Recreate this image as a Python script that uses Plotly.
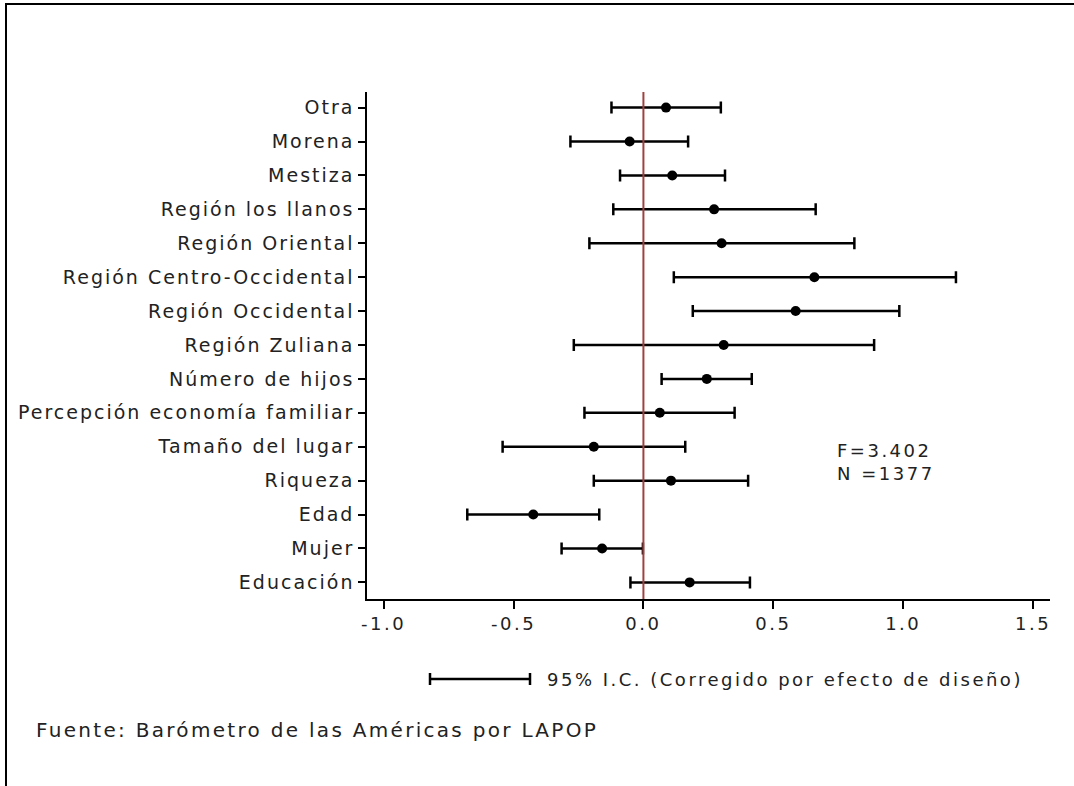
import plotly.graph_objects as go

categories = ["Educación", "Mujer", "Edad", "Riqueza", "Tamaño del lugar",
              "Percepción economía familiar", "Número de hijos", "Región Zuliana",
              "Región Occidental", "Región Centro-Occidental", "Región Oriental",
              "Región los llanos", "Mestiza", "Morena", "Otra"]
coef = [0.178, -0.159, -0.424, 0.106, -0.191, 0.063, 0.244, 0.309,
        0.586, 0.658, 0.301, 0.272, 0.111, -0.053, 0.087]
ci_low = [-0.050, -0.315, -0.678, -0.191, -0.542, -0.227, 0.070, -0.268,
          0.190, 0.117, -0.208, -0.116, -0.090, -0.281, -0.123]
ci_high = [0.410, -0.002, -0.170, 0.403, 0.161, 0.351, 0.417, 0.888,
           0.985, 1.203, 0.812, 0.663, 0.314, 0.172, 0.298]
x_ticks = [-1.0, -0.5, 0.0, 0.5, 1.0, 1.5]
x_tick_labels = ["-1.0", "-0.5", "0.0", "0.5", "1.0", "1.5"]
stats_text = "F=3.402<br>N =1377"
legend_text = "95% I.C. (Corregido por efecto de diseño)"
source_text = "Fuente: Barómetro de las Américas por LAPOP"

err_plus = [h - c for h, c in zip(ci_high, coef)]
err_minus = [c - l for c, l in zip(coef, ci_low)]

FONT = "DejaVu Sans"
TXT = "#222"
W, H = 1074, 786
L, R, T, B = 367, 24, 92, 187
pw, ph = W - L - R, H - T - B


def px(xp):
    return (xp - L) / pw


def py(yp):
    return (H - B - yp) / ph


fig = go.Figure()
fig.add_trace(go.Scatter(
    x=coef, y=categories, mode="markers",
    marker=dict(color="black", size=10, symbol="circle"),
    error_x=dict(type="data", symmetric=False, array=err_plus, arrayminus=err_minus,
                 color="black", thickness=2.5, width=6),
    showlegend=False, hoverinfo="skip",
))

shapes = [
    dict(type="line", xref="x", yref="paper", x0=0, x1=0, y0=0, y1=1,
         line=dict(color="#a0403f", width=2), layer="above"),
    dict(type="path", xref="paper", yref="paper",
         path=f"M {px(6)},{py(H + 20)} L {px(6)},{py(4)} L {px(W + 20)},{py(4)}",
         line=dict(color="black", width=2)),
    dict(type="line", xref="paper", yref="paper", x0=px(430), x1=px(530),
         y0=py(679), y1=py(679), line=dict(color="black", width=2.5)),
    dict(type="line", xref="paper", yref="paper", x0=px(430), x1=px(430),
         y0=py(673), y1=py(685), line=dict(color="black", width=2.5)),
    dict(type="line", xref="paper", yref="paper", x0=px(530), x1=px(530),
         y0=py(673), y1=py(685), line=dict(color="black", width=2.5)),
]

annotations = [
    dict(text=stats_text, xref="paper", yref="paper", x=px(835), y=py(462),
         xanchor="left", yanchor="middle", align="left", showarrow=False,
         font=dict(family=FONT, size=18, color=TXT)),
    dict(text=legend_text, xref="paper", yref="paper", x=px(545), y=py(679),
         xanchor="left", yanchor="middle", align="left", showarrow=False,
         font=dict(family=FONT, size=18, color=TXT)),
    dict(text=source_text, xref="paper", yref="paper", x=px(34), y=py(730),
         xanchor="left", yanchor="middle", align="left", showarrow=False,
         font=dict(family=FONT, size=20, color=TXT), name="source"),
]

fig.update_layout(
    width=W, height=H,
    margin=dict(l=L, r=R, t=T, b=B, pad=0),
    paper_bgcolor="white", plot_bgcolor="white",
    font=dict(family=FONT, size=18, color=TXT),
    shapes=shapes, annotations=annotations,
    xaxis=dict(range=[-1.064, 1.565], tickvals=x_ticks, ticktext=x_tick_labels,
               showgrid=False, zeroline=False, showline=True, linecolor="black",
               linewidth=1.5, ticks="outside", ticklen=8, tickwidth=1.5,
               tickcolor="black", tickfont=dict(family=FONT, size=18, color=TXT)),
    yaxis=dict(type="category", categoryorder="array", categoryarray=categories,
               range=[-0.49, 14.46], showgrid=False, zeroline=False, showline=True,
               linecolor="black", linewidth=1.5, ticks="outside", ticklen=7,
               tickwidth=1.5, tickcolor="black",
               tickfont=dict(family=FONT, size=19, color=TXT)),
)

post = ("var gd = document.getElementById('{plot_id}');"
        "if (gd) {"
        " gd.querySelectorAll('text').forEach(function(t){ t.style.letterSpacing='2.5px'; });"
        " gd.querySelectorAll('.ytick text').forEach(function(t){ t.style.letterSpacing='2px'; });"
        " gd.querySelectorAll('.annotation-text').forEach(function(t){"
        "   if (t.textContent.indexOf('Fuente') === 0) { t.style.letterSpacing='2.3px'; } });"
        "}")
fig.write_html("out.html", post_script=post)
